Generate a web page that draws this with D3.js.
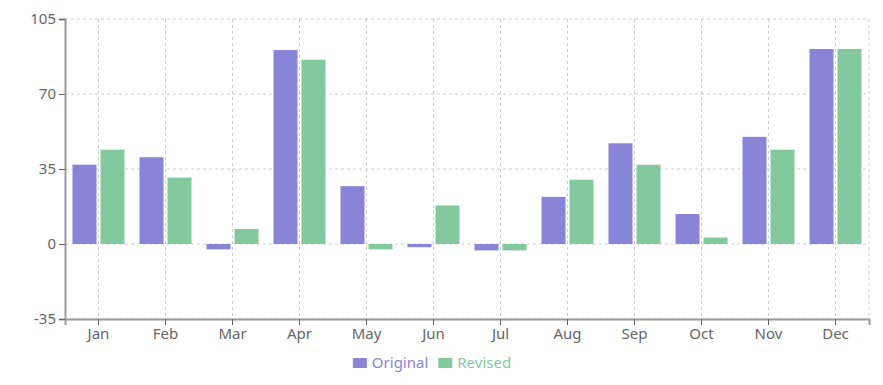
<!DOCTYPE html>
<html>
<head>
<meta charset="utf-8">
<script src="https://cdn.jsdelivr.net/npm/d3@7"></script>
<style>
  body { margin: 0; background: #fff; }
  svg { font-family: "Segoe UI", "Noto Sans", sans-serif; }
</style>
</head>
<body>
<div id="chart"></div>
<script>
const months = ["Jan", "Feb", "Mar", "Apr", "May", "Jun", "Jul", "Aug", "Sep", "Oct", "Nov", "Dec"];
const original = [37, 40.5, -2.5, 90.5, 27, -1.5, -3, 22, 47, 14, 50, 91];
const revised = [44, 31, 7, 86, -2.5, 18, -3, 30, 37, 3, 44, 91];
const yTicks = [-35, 0, 35, 70, 105];
const seriesNames = ["Original", "Revised"];
const colors = ["#8884d8", "#82ca9d"];

const width = 883;
const height = 385;
const margin = { top: 19, right: 14, bottom: 66, left: 65 };

const svg = d3.select("#chart").append("svg")
  .attr("width", width)
  .attr("height", height);

const xScale = d3.scaleBand()
  .domain(months)
  .range([margin.left, width - margin.right]);

const yScale = d3.scaleLinear()
  .domain([-35, 105])
  .range([height - margin.bottom, margin.top]);

// bars inside each month band
const gap = 4;
const barW = Math.floor((xScale.bandwidth() * 0.8 - gap) / 2);
const inner = d3.scaleOrdinal()
  .domain(seriesNames)
  .range([
    (xScale.bandwidth() - 2 * barW - gap) / 2,
    (xScale.bandwidth() - 2 * barW - gap) / 2 + barW + gap,
  ]);

// grid
const grid = svg.append("g")
  .attr("stroke", "#ccc")
  .attr("stroke-dasharray", "3 3")
  .attr("fill", "none");

grid.selectAll("line.h")
  .data(yTicks)
  .join("line")
  .attr("class", "h")
  .attr("x1", margin.left)
  .attr("x2", width - margin.right)
  .attr("y1", (d) => yScale(d))
  .attr("y2", (d) => yScale(d));

grid.selectAll("line.v")
  .data(months)
  .join("line")
  .attr("class", "v")
  .attr("x1", (d) => xScale(d) + xScale.bandwidth() / 2)
  .attr("x2", (d) => xScale(d) + xScale.bandwidth() / 2)
  .attr("y1", margin.top)
  .attr("y2", height - margin.bottom);

grid.append("line")
  .attr("x1", width - margin.right)
  .attr("x2", width - margin.right)
  .attr("y1", margin.top)
  .attr("y2", height - margin.bottom);

// bars
const rows = months.map((m, i) => ({ month: m, values: [original[i], revised[i]] }));

const groups = svg.append("g")
  .selectAll("g")
  .data(rows)
  .join("g")
  .attr("transform", (d) => `translate(${xScale(d.month)},0)`);

groups.selectAll("rect")
  .data((d) => d.values.map((v, j) => ({ key: seriesNames[j], value: v, color: colors[j] })))
  .join("rect")
  .attr("x", (d) => inner(d.key))
  .attr("width", barW)
  .attr("y", (d) => yScale(Math.max(0, d.value)))
  .attr("height", (d) => Math.abs(yScale(d.value) - yScale(0)))
  .attr("fill", (d) => d.color);

// axes
const xAxis = svg.append("g")
  .attr("transform", `translate(0,${height - margin.bottom})`)
  .call(d3.axisBottom(xScale).tickSizeOuter(0).tickSize(6).tickPadding(3));

const yAxis = svg.append("g")
  .attr("transform", `translate(${margin.left},0)`)
  .call(d3.axisLeft(yScale).tickValues(yTicks).tickFormat((d) => String(d))
    .tickSizeOuter(0).tickSize(6).tickPadding(3));

[xAxis, yAxis].forEach((ax) => {
  ax.select(".domain").attr("stroke", "#999").attr("stroke-width", 2);
  ax.selectAll(".tick line").attr("stroke", "#666");
  ax.selectAll(".tick text")
    .attr("fill", "#666")
    .style("font-size", "15px")
    .style("font-family", "\"Segoe UI\", \"Noto Sans\", sans-serif");
});

// legend
const legend = svg.append("g");
let lx = 0;
const items = legend.selectAll("g")
  .data(seriesNames)
  .join("g");

items.append("rect")
  .attr("width", 14)
  .attr("height", 10)
  .attr("y", -10)
  .attr("fill", (d, i) => colors[i]);

items.append("text")
  .attr("x", 19)
  .attr("fill", (d, i) => colors[i])
  .style("font-size", "15px")
  .text((d) => d);

items.each(function () {
  d3.select(this).attr("transform", `translate(${lx},0)`);
  lx += this.getBBox().width + 10;
});
const legendW = lx - 10;
legend.attr("transform", `translate(${432 - legendW / 2},368)`);
</script>
</body>
</html>
